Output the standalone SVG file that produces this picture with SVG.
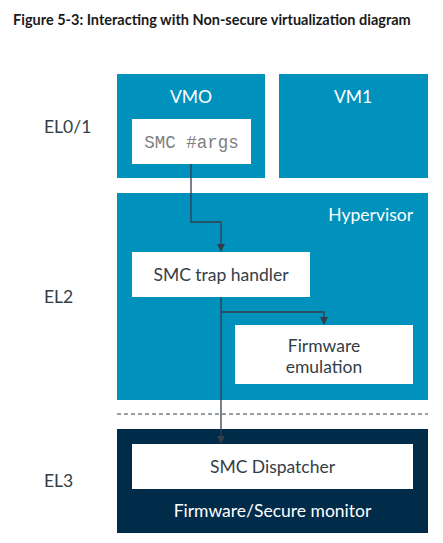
<svg xmlns="http://www.w3.org/2000/svg" width="443" height="543" viewBox="0 0 443 543">
<defs>
<style>
.t{font-family:Lato,"Open Sans","Liberation Sans",sans-serif;}
.lab{font-size:17.5px;fill:#333e48;}
.w{font-size:17.5px;fill:#ffffff;}
.dk{font-size:17.5px;fill:#333e48;}
.blue{fill:#0091bd;}
.navy{fill:#002b49;}
.box{fill:#ffffff;}
.con{fill:none;stroke:#333e48;stroke-width:1.3;}
.ah{fill:#333e48;}
</style>
</defs>
<rect width="443" height="543" fill="#ffffff"/>
<text class="t" x="13" y="25" font-size="14.5" font-weight="bold" fill="#1a1a1a">Figure 5-3: Interacting with Non-secure virtualization diagram</text>

<g id="labels">
<text class="t lab" x="44" y="133">EL0/1</text>
<text class="t lab" x="44" y="303">EL2</text>
<text class="t lab" x="44" y="487">EL3</text>
</g>

<g id="vm0">
<rect class="blue" x="117" y="74" width="148" height="104"/>
<text class="t w" x="191" y="103" text-anchor="middle">VMO</text>
</g>
<g id="smc-args">
<rect class="box" x="132" y="119" width="119" height="45"/>
<text x="191.5" y="148" text-anchor="middle" font-family="'Liberation Mono','DejaVu Sans Mono',monospace" font-size="17.5" fill="#808080">SMC #args</text>
</g>
<g id="vm1">
<rect class="blue" x="279" y="74" width="149" height="104"/>
<text class="t w" x="353" y="103" text-anchor="middle">VM1</text>
</g>

<g id="hypervisor">
<rect class="blue" x="117" y="193" width="311" height="207"/>
<text class="t w" x="413" y="221" text-anchor="end">Hypervisor</text>
</g>
<g id="trap-handler">
<rect class="box" x="132" y="252" width="178" height="45"/>
<text class="t dk" x="221" y="281" text-anchor="middle">SMC trap handler</text>
</g>
<g id="fw-emulation">
<rect class="box" x="235" y="325" width="178" height="59"/>
<text class="t dk" x="324" y="352" text-anchor="middle">Firmware</text>
<text class="t dk" x="324" y="373" text-anchor="middle">emulation</text>
</g>

<line x1="117" y1="414" x2="428" y2="414" stroke="#333e48" stroke-width="1" stroke-dasharray="4,3"/>

<g id="secure-monitor">
<rect class="navy" x="117" y="429" width="311" height="104"/>
<text class="t w" x="272.5" y="517" text-anchor="middle">Firmware/Secure monitor</text>
</g>
<g id="dispatcher">
<rect class="box" x="132" y="444" width="281" height="45"/>
<text class="t dk" x="272.5" y="473" text-anchor="middle">SMC Dispatcher</text>
</g>

<g id="connectors">
<path class="con" d="M191,164 V222 H221 V245"/>
<path class="ah" d="M217,244 L225,244 L221,252 Z"/>
<path class="con" d="M221,297 V437"/>
<path class="ah" d="M217,436 L225,436 L221,444 Z"/>
<path class="con" d="M221,312 H324 V318"/>
<path class="ah" d="M320,317 L328,317 L324,325 Z"/>
</g>
</svg>
